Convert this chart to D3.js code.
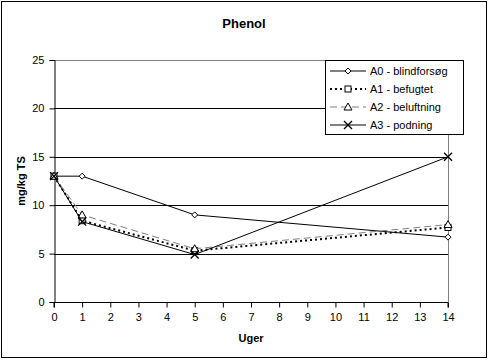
<!doctype html>
<meta charset="utf-8">
<body style="margin:0;background:#fff">
<div id="chart"></div>
<script src="https://d3js.org/d3.v7.min.js"></script>
<script>

const weeks = [0, 1, 5, 14]
const a0 = [13, 13, 9, 6.7]
const a1 = [13, 8.4, 5.3, 7.7]
const a2 = [13, 9, 5.5, 8]
const a3 = [13, 8.3, 4.9, 15]
const names = ["A0 - blindforsøg", "A1 - befugtet", "A2 - beluftning", "A3 - podning"]
const yTicks = [0, 5, 10, 15, 20, 25]
const xTicks = d3.range(0, 15)

const series = [
  { name: names[0], values: a0, dash: null, color: "#000", marker: "diamond" },
  { name: names[1], values: a1, dash: "2,3", color: "#000", marker: "square", width: 2 },
  { name: names[2], values: a2, dash: "7,4", color: "#808080", marker: "triangle" },
  { name: names[3], values: a3, dash: null, color: "#000", marker: "cross" }
]

const W = 489, H = 363
const font = "Arial, 'Liberation Sans', sans-serif"

const svg = d3.select("#chart").append("svg")
  .attr("width", W).attr("height", H)
  .style("font-family", font)

svg.append("rect")
  .attr("x", 1.5).attr("y", 1.5).attr("width", 485).attr("height", 356)
  .attr("fill", "#fff").attr("stroke", "#000")

const x = d3.scaleLinear().domain([0, 14]).range([54, 448])
const y = d3.scaleLinear().domain([0, 25]).range([302, 60])

// gridlines
svg.append("g").selectAll("line")
  .data(yTicks.filter(d => d > 0 && d < 25))
  .join("line")
  .attr("x1", x(0)).attr("x2", x(14))
  .attr("y1", d => Math.round(y(d)) + 0.5).attr("y2", d => Math.round(y(d)) + 0.5)
  .attr("stroke", "#000")

// plot area border top/right (grey)
svg.append("path")
  .attr("d", `M${x(0)},${Math.round(y(25)) + 0.5}H${x(14) + 0.5}V${y(0)}`)
  .attr("fill", "none").attr("stroke", "#808080")

const yAxis = svg.append("g")
  .attr("transform", `translate(${x(0) + 0.5},0)`)
  .call(d3.axisLeft(y).tickValues(yTicks).tickSize(5).tickPadding(5))
yAxis.selectAll("text").attr("font-size", 11).attr("font-family", font).attr("fill", "#000")

const xAxis = svg.append("g")
  .attr("transform", `translate(0,${Math.round(y(0)) + 0.5})`)
  .call(d3.axisBottom(x).tickValues(xTicks).tickSize(5).tickPadding(6).tickFormat(d3.format("d")))
xAxis.selectAll("text").attr("font-size", 11).attr("font-family", font).attr("fill", "#000")
xAxis.select(".domain").attr("d", `M${x(0)},5V0H${x(14)}V5`)

function marker(g, type, cx, cy) {
  if (type === "diamond") {
    g.append("path").attr("d", `M${cx},${cy - 3}L${cx + 3},${cy}L${cx},${cy + 3}L${cx - 3},${cy}Z`)
      .attr("fill", "#fff").attr("stroke", "#000")
  } else if (type === "square") {
    g.append("rect").attr("x", cx - 3).attr("y", cy - 3).attr("width", 6).attr("height", 6)
      .attr("fill", "#fff").attr("stroke", "#000")
  } else if (type === "triangle") {
    g.append("path").attr("d", `M${cx},${cy - 4}L${cx + 4},${cy + 3}L${cx - 4},${cy + 3}Z`)
      .attr("fill", "#fff").attr("stroke", "#000")
  } else {
    g.append("path").attr("d", `M${cx - 4},${cy - 4}L${cx + 4},${cy + 4}M${cx - 4},${cy + 4}L${cx + 4},${cy - 4}`)
      .attr("stroke", "#000").attr("stroke-width", 1.3)
  }
}

const line = d3.line().x(d => x(d[0])).y(d => y(d[1]))

series.forEach(s => {
  const pts = weeks.map((w, i) => [w, s.values[i]])
  svg.append("path")
    .attr("d", line(pts))
    .attr("fill", "none")
    .attr("stroke", s.color)
    .attr("stroke-width", s.width || 1)
    .attr("stroke-dasharray", s.dash)
  const g = svg.append("g")
  pts.forEach(p => marker(g, s.marker, x(p[0]), y(p[1])))
})

// legend
const lg = svg.append("g")
lg.append("rect").attr("x", 325.5).attr("y", 60.5).attr("width", 138).attr("height", 74)
  .attr("fill", "#fff").attr("stroke", "#000")
series.forEach((s, i) => {
  const ly = 71 + i * 18
  lg.append("line").attr("x1", 330).attr("x2", 366).attr("y1", ly).attr("y2", ly)
    .attr("stroke", s.color).attr("stroke-width", s.width || 1).attr("stroke-dasharray", s.dash)
  marker(lg, s.marker, 348, ly)
  lg.append("text").attr("x", 370).attr("y", ly + 4)
    .attr("font-size", 11).text(s.name)
})

svg.append("text").attr("x", 244).attr("y", 28).attr("text-anchor", "middle")
  .attr("font-size", 13).attr("font-weight", "bold").text("Phenol")

svg.append("text").attr("x", x(7)).attr("y", 342).attr("text-anchor", "middle")
  .attr("font-size", 11).attr("font-weight", "bold").text("Uger")

svg.append("text").attr("transform", `translate(25,181) rotate(-90)`)
  .attr("text-anchor", "middle").attr("font-size", 11).attr("font-weight", "bold").text("mg/kg TS")

</script>
</body>
